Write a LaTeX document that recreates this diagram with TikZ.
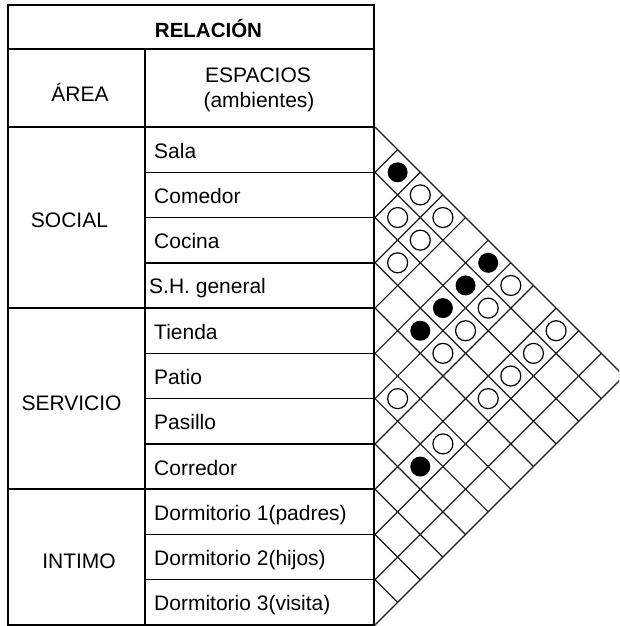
\documentclass[tikz,border=0pt]{standalone}
\usepackage{fontspec}
\setmainfont{Liberation Sans}
\begin{document}
\begin{tikzpicture}[x=1pt,y=-1pt,
  tbl/.style={line width=1.5pt,black},
  gridline/.style={line width=1.2pt,black!90},
  lbl/.style={font=\fontsize{21}{25}\selectfont,inner sep=0pt},
  hdr/.style={font=\fontsize{20.5}{25}\selectfont\bfseries,inner sep=0pt},
  fulldot/.style={fill=black},
  opendot/.style={draw=black,line width=1.2pt,fill=white}]
\useasboundingbox (0,0) rectangle (619,626);
\clip (0,0) rectangle (619,626);
\def\hh{45.2727}
\def\xo{375}
% table frame
\draw[tbl] (8,5) rectangle (374,625);
\draw[tbl] (8,49) -- (374,49);
\draw[tbl] (8,127) -- (374,127);
\draw[tbl] (145,49) -- (145,625);
\foreach \k in {1,2,3,5,6,7,9,10} \draw[tbl] (145,127+\k*\hh) -- (374,127+\k*\hh);
\foreach \k in {4,8} \draw[tbl] (8,127+\k*\hh) -- (374,127+\k*\hh);
% headers
\node[hdr,anchor=base] (rel) at (208.5,37.3) {RELACIÓN};
\node[lbl,anchor=base] (area) at (80,101) {ÁREA};
\node[lbl,anchor=base] (esp) at (258,82) {ESPACIOS};
\node[lbl,anchor=base] (amb) at (259,107) {(ambientes)};
% groups
\node[lbl,anchor=base] (social) at (69.5,227) {SOCIAL};
\node[lbl,anchor=base] (servicio) at (71.5,410) {SERVICIO};
\node[lbl,anchor=base] (intimo) at (79,568) {INTIMO};
% spaces
\foreach \n/\t/\xx in {0/Sala/154,1/Comedor/154,2/Cocina/154,3/S.H. general/149,4/Tienda/154,5/Patio/154,6/Pasillo/154,7/Corredor/154,8/Dormitorio 1(padres)/154,9/Dormitorio 2(hijos)/154,10/Dormitorio 3(visita)/154}
  \node[lbl,anchor=base west] (sp\n) at (\xx,127+\n*\hh+\hh/2+8.5) {\t};
% relation grid
\foreach \k in {0,...,11}{
  \draw[gridline] (\xo,127+\k*\hh) -- (\xo+11*\hh/2-\k*\hh/2,127+\k*\hh+11*\hh/2-\k*\hh/2);
  \draw[gridline] (\xo,127+\k*\hh) -- (\xo+\k*\hh/2,127+\k*\hh/2);
}
% filled dots
\foreach \i/\j in {0/1,0/5,1/5,2/5,3/5,6/8}
  \fill[fulldot] (\xo+\j*\hh/2-\i*\hh/2,127+\i*\hh/2+\j*\hh/2+\hh/2) circle (10);
% open dots
\foreach \i/\j in {0/2,1/2,0/3,1/3,2/3,0/6,1/6,2/6,0/8,3/6,1/8,2/8,5/6,3/8,5/8}
  \draw[opendot] (\xo+\j*\hh/2-\i*\hh/2,127+\i*\hh/2+\j*\hh/2+\hh/2) circle (10);
\end{tikzpicture}
\end{document}
